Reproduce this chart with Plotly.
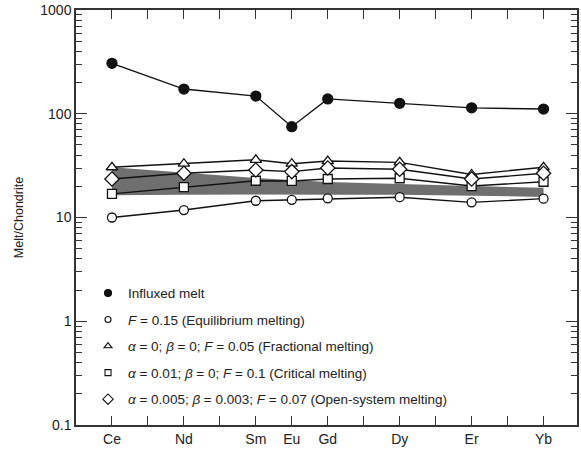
import plotly.graph_objects as go

# REE elements and their atomic numbers (x positions)
elements = ["Ce", "Nd", "Sm", "Eu", "Gd", "Dy", "Er", "Yb"]
atomic_numbers = [58, 60, 62, 63, 64, 66, 68, 70]
tick_positions = list(range(58, 71))

influxed_melt = [306, 173, 148, 75, 139, 126, 114, 111]
equilibrium = [10.0, 11.8, 14.5, 14.8, 15.3, 15.7, 14.0, 15.2]
fractional = [30.5, 33.0, 36.0, 33.0, 35.0, 34.0, 26.0, 30.5]
critical = [16.9, 19.6, 22.6, 22.5, 23.5, 23.9, 20.1, 22.1]
open_system = [23.5, 26.7, 28.7, 27.7, 30.0, 29.2, 23.5, 26.7]

band_upper = [30.5, 27.0, 24.0, 23.0, 22.0, 21.0, 20.0, 19.3]
band_lower = [16.4, 16.6, 16.7, 16.7, 16.6, 16.6, 16.2, 15.8]

labels = [
    "Influxed melt",
    "<i>F</i> = 0.15 (Equilibrium melting)",
    "<i>α</i> = 0; <i>β</i> = 0; <i>F</i> = 0.05 (Fractional melting)",
    "<i>α</i> = 0.01; <i>β</i> = 0; <i>F</i> = 0.1 (Critical melting)",
    "<i>α</i> = 0.005; <i>β</i> = 0.003; <i>F</i> = 0.07 (Open-system melting)",
]

series = [influxed_melt, equilibrium, fractional, critical, open_system]
symbols = ["circle", "circle-open", "triangle-up-open", "square-open", "diamond-open"]
sizes = [10, 9, 10, 9, 11]
legend_sizes = [7, 6, 7, 6, 8]

fig = go.Figure()

# shaded band
fig.add_trace(go.Scatter(
    x=atomic_numbers + atomic_numbers[::-1],
    y=band_upper + band_lower[::-1],
    fill="toself", fillcolor="#6f6f6f", line=dict(width=0),
    mode="lines", showlegend=False, hoverinfo="skip",
))

for vals, sym, sz in zip(series, symbols, sizes):
    filled = sym == "circle"
    fig.add_trace(go.Scatter(
        x=atomic_numbers, y=vals, mode="lines+markers",
        line=dict(color="#111111", width=1.4),
        marker=dict(symbol="circle" if filled else sym.replace("-open", ""),
                    size=sz,
                    color="#111111" if filled else "white",
                    line=dict(color="#111111", width=1.3)),
        showlegend=False,
    ))

# legend-only entries
for i, (lab, sym, sz) in enumerate(zip(labels, symbols, legend_sizes)):
    filled = sym == "circle"
    fig.add_trace(go.Scatter(
        x=[None], y=[None], mode="markers", name=lab,
        legendgroup=f"g{i}",
        marker=dict(symbol="circle" if filled else sym.replace("-open", ""),
                    size=sz,
                    color="#111111" if filled else "white",
                    line=dict(color="#111111", width=1.1)),
    ))

ticktext = [elements[atomic_numbers.index(t)] if t in atomic_numbers else "" for t in tick_positions]

fig.update_layout(
    width=581, height=456,
    margin=dict(l=76, r=4, t=10, b=31, autoexpand=False),
    paper_bgcolor="white", plot_bgcolor="white",
    font=dict(family="Liberation Sans, Arial, sans-serif", size=13, color="#222222"),
    showlegend=True,
    legend=dict(x=0.024, y=0.355, xanchor="left", yanchor="top",
                bgcolor="rgba(0,0,0,0)", traceorder="grouped",
                tracegroupgap=6, font=dict(size=13.5)),
    xaxis=dict(
        range=[57, 70.93], tickmode="array", tickvals=tick_positions, ticktext=ticktext,
        ticks="inside", ticklen=9, tickwidth=1.2, tickcolor="#333333",
        showline=True, linecolor="#333333", linewidth=1.5, mirror="ticks",
        showgrid=False, zeroline=False, tickfont=dict(size=14), automargin=False,
    ),
    yaxis=dict(
        type="log", range=[-1, 3],
        tickvals=[0.1, 1, 10, 100, 1000], ticktext=["0.1", "1", "10", "100", "1000"],
        ticks="inside", ticklen=11, tickwidth=1.2, tickcolor="#333333",
        minor=dict(ticks="inside", ticklen=6, tickwidth=1, tickcolor="#333333",
                   tickvals=[m * 10 ** e for e in range(-1, 3) for m in range(2, 10)]),
        showline=True, linecolor="#333333", linewidth=1.5, mirror="ticks",
        showgrid=False, zeroline=False, tickfont=dict(size=14), automargin=False,
        title=dict(text="Melt/Chondrite", font=dict(size=12.5), standoff=14),
    ),
)

fig.write_html("out.html", config={"displayModeBar": False},
               post_script="document.body.style.margin='0';")
